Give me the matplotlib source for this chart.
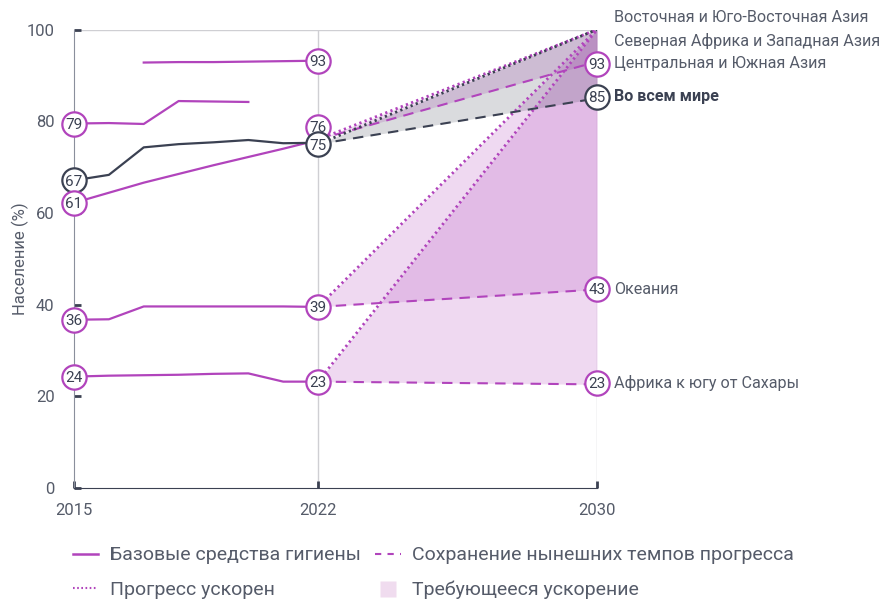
import matplotlib
matplotlib.use('Agg')
import matplotlib.pyplot as plt
from matplotlib.lines import Line2D

plt.rcParams['font.family'] = ['Roboto', 'DejaVu Sans']

PINK = '#b144bc'
DARK = '#3b4152'
GREY_TXT = '#555b69'

# historical series (basic hygiene, %)
years = [2015, 2016, 2017, 2018, 2019, 2020, 2021, 2022]
east_se_asia = [None, None, 92.8, 92.9, 92.9, 93.0, 93.1, 93.2]
n_africa_w_asia = [79.5, 79.6, 79.4, 84.4, 84.3, 84.2, None, None]
central_s_asia = [62.2, 64.4, 66.6, 68.5, 70.4, 72.2, 74.0, 75.9]
world = [67.1, 68.3, 74.3, 75.0, 75.4, 75.9, 75.2, 75.3]
oceania = [36.7, 36.8, 39.6, 39.6, 39.6, 39.6, 39.6, 39.5]
ss_africa = [24.3, 24.5, 24.6, 24.7, 24.9, 25.0, 23.2, 23.2]

# projections 2022 -> 2030: (start, current pace, accelerated)
proj_years = [2022, 2030]
proj_cs_asia = [76, 93, 100]
proj_world = [75, 85, 100]
proj_oceania = [39.5, 43.3, 100]
proj_ssa = [23.2, 22.6, 100]

# circle labels: (year, y position, text, colour)
bubbles = [
    (2015, 79.5, '79', PINK), (2015, 67.1, '67', DARK), (2015, 62.2, '61', PINK),
    (2015, 36.7, '36', PINK), (2015, 24.3, '24', PINK),
    (2022, 93.2, '93', PINK), (2022, 78.8, '76', PINK), (2022, 75.0, '75', DARK),
    (2022, 39.5, '39', PINK), (2022, 23.2, '23', PINK),
    (2030, 92.5, '93', PINK), (2030, 85.3, '85', DARK),
    (2030, 43.4, '43', PINK), (2030, 22.9, '23', PINK),
]
right_labels = [
    (102.7, 'Восточная и Юго-Восточная Азия', 'normal'),
    (97.5, 'Северная Африка и Западная Азия', 'normal'),
    (92.5, 'Центральная и Южная Азия', 'normal'),
    (85.3, 'Во всем мире', 'bold'),
    (43.4, 'Океания', 'normal'),
    (22.9, 'Африка к югу от Сахары', 'normal'),
]

fig = plt.figure(figsize=(8.96, 5.99), dpi=100)
ax = fig.add_axes([0.0826, 0.1853, 0.5837, 0.7654])
ax.set_xlim(2015, 2030)
ax.set_ylim(0, 100)

# fills
for start, pace, acc in [proj_oceania, proj_ssa, proj_cs_asia]:
    ax.fill_between(proj_years, [start, pace], [start, acc], color=PINK, alpha=0.2, lw=0, zorder=1)
ax.fill_between(proj_years, [proj_world[0], proj_world[1]], [proj_world[0], proj_world[2]],
                color=DARK, alpha=0.19, lw=0, zorder=1)

# historical lines
for s in [east_se_asia, n_africa_w_asia, central_s_asia, oceania, ss_africa]:
    xs = [y for y, v in zip(years, s) if v is not None]
    vs = [v for v in s if v is not None]
    ax.plot(xs, vs, color=PINK, lw=1.6, zorder=3)
ax.plot(years, world, color=DARK, lw=1.6, zorder=3)

# projection lines
for p, c in [(proj_oceania, PINK), (proj_ssa, PINK), (proj_cs_asia, PINK), (proj_world, DARK)]:
    ax.plot(proj_years, [p[0], p[1]], color=c, lw=1.5, ls=(0, (5, 3.5)), zorder=3)
    ax.plot(proj_years, [p[0], p[2]], color=c, lw=2, ls=(0, (0.8, 1.2)), zorder=3)

for x, y, t, c in bubbles:
    ax.plot(x, y, 'o', ms=17.5, mfc='white', mec=c, mew=1.6, zorder=5, clip_on=False)
    ax.text(x, y - 0.3, t, ha='center', va='center', fontsize=11, color=DARK, zorder=6)

for y, t, w in right_labels:
    ax.text(2030.5, y, t, ha='left', va='center', fontsize=11.6, color=DARK if w == 'bold' else GREY_TXT,
            fontweight=w, clip_on=False)

# axes styling
for sp in ['top', 'right']:
    ax.spines[sp].set_visible(False)
ax.spines['left'].set_color('#8a8f9c')
ax.spines['bottom'].set_color(DARK)
ax.axhline(100, color='#cfcfd3', lw=1, zorder=0)
ax.axvline(2022, color='#cfcfd3', lw=1, zorder=0)
ax.axvline(2030, color='#cfcfd3', lw=1, zorder=0)
ax.set_xticks([2015, 2022, 2030])
ax.set_yticks([0, 20, 40, 60, 80, 100])
ax.tick_params(direction='in', length=5, width=2, color=DARK, labelsize=12, labelcolor=GREY_TXT)
ax.tick_params(axis='y', pad=14)
ax.tick_params(axis='x', pad=11)
ax.set_ylabel('Население (%)', fontsize=12, color=GREY_TXT, labelpad=-2)

handles = [
    Line2D([], [], color=PINK, lw=1.8),
    Line2D([], [], color=PINK, lw=1.5, ls=(0, (0.8, 1.2))),
    Line2D([], [], color=PINK, lw=1.5, ls=(0, (3, 3))),
    Line2D([], [], ls='none', marker='s', ms=12, mfc='#f0dcef', mec='none'),
]
labels = ['Базовые средства гигиены', 'Прогресс ускорен',
          'Сохранение нынешних темпов прогресса', 'Требующееся ускорение']
leg = fig.legend(handles, labels, ncol=2, loc='lower left', bbox_to_anchor=(0.062, -0.03),
                 frameon=False, fontsize=14, handlelength=1.3, handletextpad=0.6,
                 columnspacing=0.75, labelspacing=0.85)
for t in leg.get_texts():
    t.set_color(GREY_TXT)

fig.savefig('out.png', dpi=100)
